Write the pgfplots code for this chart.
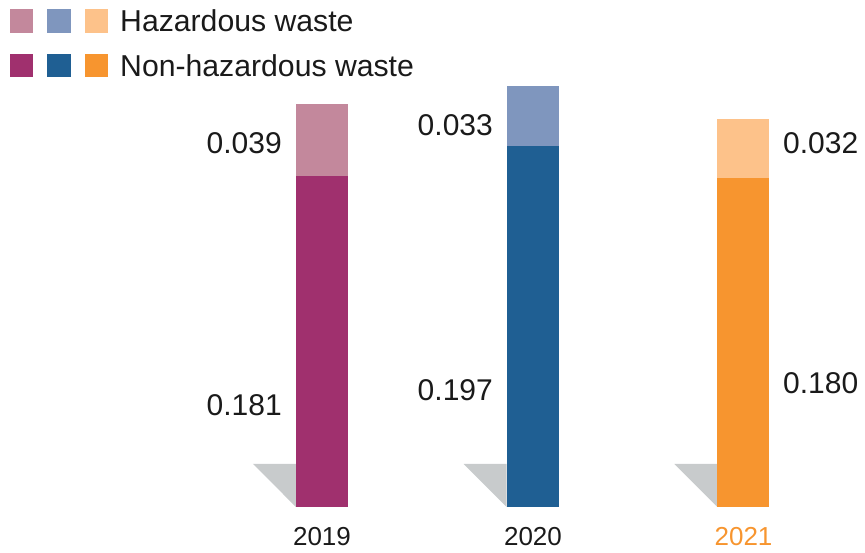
\documentclass[border=0pt]{standalone}
\usepackage{pgfplots}
\pgfplotsset{compat=1.18}
\usepackage{fontspec}
\setmainfont{Liberation Sans}
\definecolor{dA}{HTML}{A0306E}
\definecolor{lA}{HTML}{C3889C}
\definecolor{dB}{HTML}{1F5F93}
\definecolor{lB}{HTML}{7F96BE}
\definecolor{dC}{HTML}{F7952F}
\definecolor{lC}{HTML}{FDC28A}
\definecolor{shadow}{HTML}{C8CBCC}
\definecolor{txt}{HTML}{1A1A1A}
\begin{document}
\begin{tikzpicture}
\pgfplotsset{myax/.style={scale only axis, width=865pt, height=553pt,
  at={(0pt,0pt)}, anchor=south west,
  xmin=-1.528, xmax=2.577, ymin=-0.02514, ymax=0.27705, hide axis, clip=false}}
% shadows
\begin{axis}[myax]
\addplot[fill=shadow, draw=none] coordinates {(-0.3274,0.0235) (-0.1234,0.0235) (-0.1234,0)};
\addplot[fill=shadow, draw=none] coordinates {(0.6726,0.0235) (0.8766,0.0235) (0.8766,0)};
\addplot[fill=shadow, draw=none] coordinates {(1.6726,0.0235) (1.8766,0.0235) (1.8766,0)};
\end{axis}
% bars
\begin{axis}[myax, ybar stacked, bar width=52pt]
\addplot[fill=dA, draw=none] coordinates {(0,0.181) (1,0) (2,0)};
\addplot[fill=lA, draw=none] coordinates {(0,0.039) (1,0) (2,0)};
\addplot[fill=dB, draw=none] coordinates {(0,0) (1,0.197) (2,0)};
\addplot[fill=lB, draw=none] coordinates {(0,0) (1,0.033) (2,0)};
\addplot[fill=dC, draw=none] coordinates {(0,0) (1,0) (2,0.180)};
\addplot[fill=lC, draw=none] coordinates {(0,0) (1,0) (2,0.032)};
\end{axis}
\path (0pt,0pt) rectangle (865pt,553pt);
% value labels
\begin{scope}[every node/.style={text=txt, inner sep=0pt, font=\fontsize{30}{33}\selectfont}]
\node[anchor=east] at (282pt,410pt) {0.039};
\node[anchor=east] at (282pt,148pt) {0.181};
\node[anchor=east] at (493pt,428pt) {0.033};
\node[anchor=east] at (493pt,163pt) {0.197};
\node[anchor=west] at (783pt,410pt) {0.032};
\node[anchor=west] at (783pt,170pt) {0.180};
\end{scope}
% year labels
\begin{scope}[every node/.style={inner sep=0pt, font=\fontsize{26}{29}\selectfont}]
\node[text=txt] at (322pt,16pt) {2019};
\node[text=txt] at (533pt,16pt) {2020};
\node[text=dC] at (743.5pt,16pt) {2021};
\end{scope}
% legend
\fill[lA] (10pt,520pt) rectangle ++(23pt,24pt);
\fill[lB] (47pt,520pt) rectangle ++(24pt,24pt);
\fill[lC] (85pt,520pt) rectangle ++(23pt,24pt);
\fill[dA] (10pt,476pt) rectangle ++(23pt,23pt);
\fill[dB] (47pt,476pt) rectangle ++(24pt,23pt);
\fill[dC] (85pt,476pt) rectangle ++(23pt,23pt);
\node[anchor=west, inner sep=0pt, text=txt, font=\fontsize{30.2}{33}\selectfont] at (120pt,532pt) {Hazardous waste};
\node[anchor=west, inner sep=0pt, text=txt, font=\fontsize{30.2}{33}\selectfont] at (120pt,487.5pt) {Non-hazardous waste};
\end{tikzpicture}
\end{document}
